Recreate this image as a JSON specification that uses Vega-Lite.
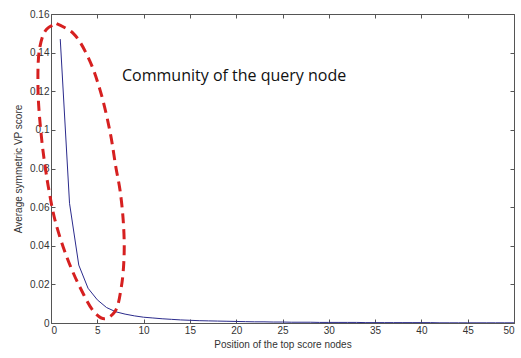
{
  "$schema": "https://vega.github.io/schema/vega-lite/v6.json",
  "width": 463,
  "height": 309,
  "autosize": "none",
  "padding": {"left": 51, "top": 14, "right": 7, "bottom": 35},
  "background": "white",
  "config": {
    "view": {"stroke": null},
    "axis": {"labelFont": "Liberation Sans", "titleFont": "Liberation Sans", "labelFontSize": 10, "titleFontSize": 10, "labelColor": "#333", "titleColor": "#333", "domainColor": "#555", "tickColor": "#555", "grid": false, "titleFontWeight": "normal"}
  },
  "datasets": {
    "curve": [
      {"pos": 1, "score": 0.147}, {"pos": 2, "score": 0.062}, {"pos": 3, "score": 0.030}, {"pos": 4, "score": 0.018},
      {"pos": 5, "score": 0.012}, {"pos": 6, "score": 0.008}, {"pos": 7, "score": 0.0058}, {"pos": 8, "score": 0.0046},
      {"pos": 9, "score": 0.0037}, {"pos": 10, "score": 0.0030}, {"pos": 11, "score": 0.0026}, {"pos": 12, "score": 0.0022},
      {"pos": 13, "score": 0.0019}, {"pos": 14, "score": 0.0016}, {"pos": 15, "score": 0.0014}, {"pos": 16, "score": 0.0012},
      {"pos": 17, "score": 0.0011}, {"pos": 18, "score": 0.0010}, {"pos": 19, "score": 0.0009}, {"pos": 20, "score": 0.0008},
      {"pos": 21, "score": 0.0007}, {"pos": 22, "score": 0.0006}, {"pos": 23, "score": 0.0006}, {"pos": 24, "score": 0.0005},
      {"pos": 25, "score": 0.0005}, {"pos": 26, "score": 0.0004}, {"pos": 27, "score": 0.0004}, {"pos": 28, "score": 0.0004},
      {"pos": 29, "score": 0.0003}, {"pos": 30, "score": 0.0003}, {"pos": 31, "score": 0.0003}, {"pos": 32, "score": 0.0003},
      {"pos": 33, "score": 0.0003}, {"pos": 34, "score": 0.0002}, {"pos": 35, "score": 0.0002}, {"pos": 36, "score": 0.0002},
      {"pos": 37, "score": 0.0002}, {"pos": 38, "score": 0.0002}, {"pos": 39, "score": 0.0002}, {"pos": 40, "score": 0.0002},
      {"pos": 41, "score": 0.0002}, {"pos": 42, "score": 0.0001}, {"pos": 43, "score": 0.0001}, {"pos": 44, "score": 0.0001},
      {"pos": 45, "score": 0.0001}, {"pos": 46, "score": 0.0001}, {"pos": 47, "score": 0.0001}, {"pos": 48, "score": 0.0001},
      {"pos": 49, "score": 0.0001}, {"pos": 50, "score": 0.0001}
    ],
    "ellipse": [
      {"i": 0, "ex": 0.6, "ey": 0.155}, {"i": 1, "ex": 2.4, "ey": 0.150}, {"i": 2, "ex": 4.0, "ey": 0.1377},
      {"i": 3, "ex": 5.3, "ey": 0.1206}, {"i": 4, "ex": 6.4, "ey": 0.0984}, {"i": 5, "ex": 7.0, "ey": 0.0808},
      {"i": 6, "ex": 7.45, "ey": 0.0689}, {"i": 7, "ex": 7.8, "ey": 0.053}, {"i": 8, "ex": 7.9, "ey": 0.036},
      {"i": 9, "ex": 7.6, "ey": 0.0188}, {"i": 10, "ex": 6.9, "ey": 0.0059}, {"i": 11, "ex": 5.8, "ey": 0.0022},
      {"i": 12, "ex": 4.75, "ey": 0.0052}, {"i": 13, "ex": 3.1, "ey": 0.0188}, {"i": 14, "ex": 1.7, "ey": 0.0343},
      {"i": 15, "ex": 0.43, "ey": 0.0533}, {"i": 16, "ex": -0.29, "ey": 0.0706}, {"i": 17, "ex": -0.6, "ey": 0.08},
      {"i": 18, "ex": -1.0, "ey": 0.0948}, {"i": 19, "ex": -1.4, "ey": 0.1206}, {"i": 20, "ex": -1.2, "ey": 0.143},
      {"i": 21, "ex": -0.5, "ey": 0.152}, {"i": 22, "ex": 0.6, "ey": 0.155}
    ],
    "label": [{"lx": 7.67, "ly": 0.128, "txt": "Community of the query node"}]
  },
  "layer": [
    {
      "data": {"name": "curve"},
      "mark": {"type": "line", "color": "#2b2b8c", "strokeWidth": 1, "clip": true},
      "encoding": {
        "x": {"field": "pos", "type": "quantitative", "scale": {"domain": [0, 50], "nice": false, "zero": false},
          "axis": {"orient": "bottom", "values": [0,5,10,15,20,25,30,35,40,45,50], "tickSize": -4, "labelPadding": 6, "title": "Position of the top score nodes", "titlePadding": 4}},
        "y": {"field": "score", "type": "quantitative", "scale": {"domain": [0, 0.16], "nice": false},
          "axis": {"orient": "left", "values": [0,0.02,0.04,0.06,0.08,0.1,0.12,0.14,0.16], "format": ".2~f", "tickSize": -4, "labelPadding": 6, "title": "Average symmetric VP score", "titlePadding": 6}}
      }
    },
    {
      "data": {"name": "curve"},
      "mark": {"type": "point", "opacity": 0},
      "encoding": {
        "x": {"field": "pos", "type": "quantitative", "axis": {"orient": "top", "values": [0,5,10,15,20,25,30,35,40,45,50], "labels": false, "tickSize": -4, "title": null}},
        "y": {"field": "score", "type": "quantitative", "axis": {"orient": "right", "values": [0,0.02,0.04,0.06,0.08,0.1,0.12,0.14,0.16], "labels": false, "tickSize": -4, "title": null}}
      }
    },
    {
      "data": {"name": "ellipse"},
      "mark": {"type": "line", "color": "#d62020", "strokeWidth": 3, "strokeDash": [10, 6], "interpolate": "catmull-rom", "clip": false},
      "encoding": {
        "x": {"field": "ex", "type": "quantitative", "axis": null},
        "y": {"field": "ey", "type": "quantitative", "axis": null},
        "order": {"field": "i", "type": "quantitative"}
      }
    },
    {
      "data": {"name": "label"},
      "mark": {"type": "text", "font": "Open Sans", "fontSize": 16, "align": "left", "baseline": "middle", "color": "#111"},
      "encoding": {
        "x": {"field": "lx", "type": "quantitative", "axis": null},
        "y": {"field": "ly", "type": "quantitative", "axis": null},
        "text": {"field": "txt"}
      }
    }
  ],
  "resolve": {"axis": {"x": "independent", "y": "independent"}}
}
